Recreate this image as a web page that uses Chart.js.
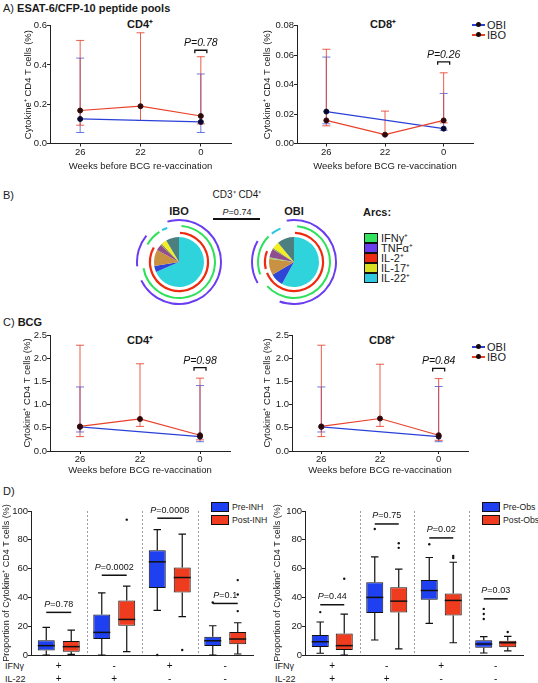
<!DOCTYPE html>
<html>
<head>
<meta charset="utf-8">
<script src="https://cdn.jsdelivr.net/npm/chart.js@4.4.1/dist/chart.umd.min.js"></script>
<style>
  body{margin:0;width:538px;height:683px;position:relative;overflow:hidden;background:#fff;
       font-family:'Liberation Sans',Arial,sans-serif;color:#1a1a1a}
  canvas{position:absolute}
  .t{position:absolute;white-space:nowrap;line-height:1}
  .c{transform:translate(-50%,-50%)}
  .lg{position:absolute;font-size:11px;line-height:12px;height:12px;padding-left:15px;white-space:nowrap}
  .lg .ln{position:absolute;left:0;top:5px;width:13px;height:1.5px}
  .lg .dt{position:absolute;left:3.5px;top:3px;width:5px;height:5px;border-radius:50%;background:#1a0808}
  .bx{position:absolute;font-size:8.7px;line-height:10px;white-space:nowrap;padding-left:21px}
  .bx i{position:absolute;left:0;top:0;width:16px;height:8px;border:1px solid #111}
  .arc{position:absolute;left:364px;font-size:11px;line-height:10px;white-space:nowrap;padding-left:17px}
  .arc i{position:absolute;left:0;top:0;width:12px;height:8px;border:1px solid #111}
</style>
</head>
<body>

<div class="t" style="left:3px;top:3px;font-size:11px">A) <b>ESAT-6/CFP-10 peptide pools</b></div>
<div class="t c" style="left:140px;top:24px;font-size:11px;font-weight:bold">CD4⁺</div>
<div class="t c" style="left:383px;top:24px;font-size:11px;font-weight:bold">CD8⁺</div>
<div class="lg" style="left:472px;top:19px"><i class="ln" style="background:#2a41d8"></i><i class="dt"></i>OBI</div>
<div class="lg" style="left:472px;top:29px"><i class="ln" style="background:#e8412b"></i><i class="dt"></i>IBO</div>

<div class="t" style="left:3px;top:190px;font-size:11px">B)</div>
<div class="t c" style="left:237px;top:195px;font-size:10px">CD3⁺ CD4⁺</div>
<div class="t c" style="left:179px;top:211px;font-size:11px;font-weight:bold">IBO</div>
<div class="t c" style="left:294px;top:211px;font-size:11px;font-weight:bold">OBI</div>
<div class="t c" style="left:237px;top:212px;font-size:9px"><i>P</i>=0.74</div>
<div style="position:absolute;left:213px;top:218px;width:47px;height:1.5px;background:#111"></div>
<div class="t" style="left:363px;top:207px;font-size:11px;font-weight:bold">Arcs:</div>
<div class="arc" style="top:233px"><i style="background:#33e25f"></i>IFNγ⁺</div>
<div class="arc" style="top:243px"><i style="background:#6a3df0"></i>TNFα⁺</div>
<div class="arc" style="top:253px"><i style="background:#ee2a10"></i>IL-2⁺</div>
<div class="arc" style="top:263px"><i style="background:#d8e020"></i>IL-17⁺</div>
<div class="arc" style="top:273px"><i style="background:#2ec8e0"></i>IL-22⁺</div>

<div class="t" style="left:3px;top:317px;font-size:11px">C) <b>BCG</b></div>
<div class="t c" style="left:140px;top:340px;font-size:11px;font-weight:bold">CD4⁺</div>
<div class="t c" style="left:382px;top:340px;font-size:11px;font-weight:bold">CD8⁺</div>
<div class="lg" style="left:472px;top:341px"><i class="ln" style="background:#2a41d8"></i><i class="dt"></i>OBI</div>
<div class="lg" style="left:472px;top:351px"><i class="ln" style="background:#e8412b"></i><i class="dt"></i>IBO</div>

<div class="t" style="left:3px;top:486px;font-size:11px">D)</div>
<div class="bx" style="left:211px;top:502px"><i style="background:#1f40f0"></i>Pre-INH</div>
<div class="bx" style="left:211px;top:515px"><i style="background:#f03c1e"></i>Post-INH</div>
<div class="bx" style="left:482px;top:502px"><i style="background:#1f40f0"></i>Pre-Obs</div>
<div class="bx" style="left:482px;top:515px"><i style="background:#f03c1e"></i>Post-Obs</div>
<div class="t" style="left:5px;top:662px;font-size:9px">IFNγ</div>
<div class="t" style="left:5px;top:675px;font-size:9px">IL-22</div>
<div class="t" style="left:275px;top:662px;font-size:9px">IFNγ</div>
<div class="t" style="left:275px;top:675px;font-size:9px">IL-22</div>

<script>
// ---- data ----
const weeks = ['26', '22', '0'];

// A) ESAT-6/CFP-10, CD4 (median, lower and upper error)
const iboCd4A = [0.168, 0.19, 0.14], iboCd4ALo = [0.093, 0.117, 0.10], iboCd4AHi = [0.525, 0.564, 0.442];
const obiCd4A = [0.125, null, 0.11], obiCd4ALo = [0.056, null, 0.056], obiCd4AHi = [0.435, null, 0.354];
// A) CD8
const iboCd8A = [0.0157, 0.006, 0.0157], iboCd8ALo = [0.012, 0.006, 0.014], iboCd8AHi = [0.064, 0.022, 0.048];
const obiCd8A = [0.0217, null, 0.0101], obiCd8ALo = [0.0134, null, 0.009], obiCd8AHi = [0.0587, null, 0.034];
// C) BCG, CD4
const iboCd4C = [0.53, 0.69, 0.34], iboCd4CLo = [0.31, 0.53, 0.24], iboCd4CHi = [2.28, 1.88, 1.57];
const obiCd4C = [0.52, null, 0.31], obiCd4CLo = [0.41, null, 0.20], obiCd4CHi = [1.38, null, 1.41];
// C) CD8
const iboCd8C = [0.53, 0.70, 0.34], iboCd8CLo = [0.31, 0.53, 0.23], iboCd8CHi = [2.28, 1.87, 1.56];
const obiCd8C = [0.52, null, 0.31], obiCd8CLo = [0.41, null, 0.20], obiCd8CHi = [1.38, null, 1.39];

// B) pies (share of slices) and arcs (degrees clockwise from top)
const iboPie = [68.5, 4, 10.5, 4, 1, 3.5, 8.5];
const obiPie = [58, 8.5, 10.5, 1, 5.5, 1, 4.5, 11];
const iboTnfArcs = [[-16, 244], [264, 309]];
const iboIfngArcs = [[4, 260], [299, 327]];
const iboIl22Arcs = [[332, 341]];
const iboIl2Arcs = [[2, 300]];
const obiTnfArcs = [[-10, 200], [240, 300]];
const obiIfngArcs = [[5, 228], [250, 315]];
const obiIl22Arcs = [[322, 338]];
const obiIl2Arcs = [[2, 248], [256, 292]];

// D) box plots: IFNγ / IL-22 combos
const ifngRow = ['+', '-', '+', '-'];
const il22Row = ['+', '+', '-', '-'];
const preInhMin = [0, 0, 31, 0],        preInhQ1 = [3.2, 11.1, 46.6, 6.2],  preInhMed = [6.5, 15.7, 64.7, 9.9];
const preInhQ3 = [10.2, 28.2, 72.7, 12.7], preInhMax = [19.2, 43.2, 87, 20.3];
const preInhOut = [[], [], [0], [36.5]];
const postInhMin = [0.5, 2.3, 26.6, 0.7], postInhQ1 = [2.3, 20.3, 43.4, 7.4], postInhMed = [5.8, 24.7, 53.8, 11.1];
const postInhQ3 = [9.7, 37.9, 60.7, 15.9], postInhMax = [17.3, 47.8, 84, 22.4];
const postInhOut = [[], [94], [3.5], [52, 42, 30.5]];
const inhP = ['0.78', '0.0002', '0.0008', '0.1'], inhPy = [29.6, 55.4, 95, 35.8];

const preObsMin = [1.2, 10.4, 21.9, 1.4], preObsQ1 = [5.5, 29.1, 38.3, 5.1], preObsMed = [9.2, 40, 44.8, 7.6];
const preObsQ3 = [13.9, 50.6, 52, 10.2], preObsMax = [22.9, 68.1, 67.7, 12.7];
const preObsOut = [[29.8], [87.5], [76.9], [32, 28.5, 25]];
const postObsMin = [0, 4.2, 8.5, 2.8], postObsQ1 = [3.5, 29.6, 27.5, 5.3], postObsMed = [6.5, 37.4, 37.9, 8.5];
const postObsQ3 = [15, 47.1, 42.7, 9.9], postObsMax = [28.4, 59.6, 64.4, 12.9];
const postObsOut = [[52.9], [77.6, 74.4], [68.8, 67.4], [16]];
const obsP = ['0.44', '0.75', '0.02', '0.03'], obsPy = [34.9, 91, 81.3, 39];

// ---- setup ----
const RED = '#e8412b', BLUE = '#2a41d8', AX = '#222';
const FONT = "'Liberation Sans', Arial, sans-serif";
Chart.defaults.font.family = FONT;
Chart.defaults.font.size = 9.5;
Chart.defaults.color = '#1a1a1a';
Chart.defaults.animation = false;
Chart.defaults.plugins.legend.display = false;
Chart.defaults.plugins.tooltip.enabled = false;

function addCanvas(left, top, w, h) {
  const cv = document.createElement('canvas');
  cv.width = Math.round(w); cv.height = Math.round(h);
  cv.style.left = left + 'px'; cv.style.top = top + 'px';
  document.body.appendChild(cv);
  return cv;
}

// error bars under the lines, blue first so red sits on top
const errorBars = {
  id: 'errorBars',
  beforeDatasetsDraw(chart) {
    const {ctx, scales: {x, y}} = chart;
    ctx.save();
    chart.data.datasets.slice().reverse().forEach(ds => {
      ctx.strokeStyle = ds.errColor; ctx.lineWidth = 1;
      ds.errLo.forEach((lo, i) => {
        if (lo == null) return;
        const px = x.getPixelForValue(i), y0 = y.getPixelForValue(lo), y1 = y.getPixelForValue(ds.errHi[i]);
        ctx.beginPath();
        ctx.moveTo(px, y0); ctx.lineTo(px, y1);
        ctx.moveTo(px - 4, y0); ctx.lineTo(px + 4, y0);
        ctx.moveTo(px - 4, y1); ctx.lineTo(px + 4, y1);
        ctx.stroke();
      });
    });
    ctx.restore();
  }
};

const pBracket = {
  id: 'pBracket',
  afterDatasetsDraw(chart, args, opts) {
    if (!opts || !opts.text) return;
    const {ctx, scales: {x, y}} = chart;
    const cx = x.getPixelForValue(opts.at), cy = y.getPixelForValue(opts.value);
    ctx.save();
    ctx.strokeStyle = '#111'; ctx.lineWidth = 1.3;
    ctx.beginPath();
    ctx.moveTo(cx - 6, cy + 3); ctx.lineTo(cx - 6, cy); ctx.lineTo(cx + 6, cy); ctx.lineTo(cx + 6, cy + 3);
    ctx.stroke();
    ctx.font = 'italic 10.5px ' + FONT;
    ctx.fillStyle = '#111'; ctx.textAlign = 'center'; ctx.textBaseline = 'middle';
    ctx.fillText(opts.text, cx, cy - 7);
    ctx.restore();
  }
};

function lineChart(plot, o) {
  const cl = Math.round(o.yTitleX - 7), ct = Math.round(plot.T - 10);
  const cw = plot.R + 6 - cl, ch = o.xTitleY + 8 - ct;
  const padTop = plot.T - ct;
  const cv = addCanvas(cl, ct, cw, ch);
  return new Chart(cv, {
    type: 'line',
    data: {
      labels: weeks,
      datasets: [
        {data: o.ibo, errLo: o.iboLo, errHi: o.iboHi, errColor: 'rgba(232,65,43,0.85)',
         borderColor: RED, borderWidth: 1.2, tension: 0,
         pointRadius: 2.5, pointBorderWidth: 1, pointBackgroundColor: '#2a0808', pointBorderColor: '#3a0c0c'},
        {data: o.obi, errLo: o.obiLo, errHi: o.obiHi, errColor: 'rgba(42,65,216,0.7)', spanGaps: true,
         borderColor: BLUE, borderWidth: 1.2, tension: 0,
         pointRadius: 2.5, pointBorderWidth: 1, pointBackgroundColor: '#08082a', pointBorderColor: '#0c0c3a'}
      ]
    },
    options: {
      responsive: false, devicePixelRatio: 1,
      layout: {padding: {top: padTop, right: 6, left: 0, bottom: 0}},
      scales: {
        x: {
          offset: true,
          grid: {drawOnChartArea: false, tickLength: 3, color: AX},
          border: {color: AX, width: 1},
          ticks: {padding: o.tickPad, font: {size: 9.5}, color: '#1a1a1a'},
          title: {display: true, text: 'Weeks before BCG re-vaccination', padding: {top: 0, bottom: 2}, font: {size: 9.5}},
          afterFit: s => { s.height = ch - padTop - (plot.B - plot.T); }
        },
        y: {
          min: 0, max: o.ymax,
          grid: {drawOnChartArea: false, tickLength: 3, color: AX},
          border: {color: AX, width: 1},
          ticks: {stepSize: o.step, padding: 0, font: {size: 9.5}, color: '#1a1a1a', callback: v => v.toFixed(o.dec)},
          title: {display: true, text: 'Cytokine⁺ CD4 T cells (%)', padding: {top: 1.3, bottom: 0}, font: {size: 9.5}},
          afterFit: s => { s.width = plot.L - cl; }
        }
      },
      plugins: {pBracket: o.p}
    },
    plugins: [errorBars, pBracket]
  });
}

lineChart({L: 50, R: 231, T: 25.7, B: 143.5}, {
  ymax: 0.6, step: 0.2, dec: 1, yTitleX: 28, xTitleY: 166, tickPad: 0,
  ibo: iboCd4A, iboLo: iboCd4ALo, iboHi: iboCd4AHi, obi: obiCd4A, obiLo: obiCd4ALo, obiHi: obiCd4AHi,
  p: {text: 'P=0.78', at: 2, value: 0.475}
});
lineChart({L: 297, R: 473, T: 25.7, B: 143.5}, {
  ymax: 0.08, step: 0.02, dec: 2, yTitleX: 267, xTitleY: 166, tickPad: 0,
  ibo: iboCd8A, iboLo: iboCd8ALo, iboHi: iboCd8AHi, obi: obiCd8A, obiLo: obiCd8ALo, obiHi: obiCd8AHi,
  p: {text: 'P=0.26', at: 2, value: 0.0555}
});
lineChart({L: 50, R: 230, T: 335, B: 451}, {
  ymax: 2.5, step: 0.5, dec: 1, yTitleX: 27, xTitleY: 470, tickPad: 0,
  ibo: iboCd4C, iboLo: iboCd4CLo, iboHi: iboCd4CHi, obi: obiCd4C, obiLo: obiCd4CLo, obiHi: obiCd4CHi,
  p: {text: 'P=0.98', at: 2, value: 1.795}
});
lineChart({L: 292, R: 468, T: 335, B: 451}, {
  ymax: 2.5, step: 0.5, dec: 1, yTitleX: 267, xTitleY: 470, tickPad: 0,
  ibo: iboCd8C, iboLo: iboCd8CLo, iboHi: iboCd8CHi, obi: obiCd8C, obiLo: obiCd8CLo, obiHi: obiCd8CHi,
  p: {text: 'P=0.84', at: 2, value: 1.78}
});

// ---- B) pies with arcs ----
const CLEAR = 'rgba(0,0,0,0)';
function ringData(arcs) {
  const parts = [];
  arcs.forEach(([s, e, c]) => {
    if (s < 0) { parts.push([s + 360, 360, c]); parts.push([0, e, c]); }
    else parts.push([s, e, c]);
  });
  parts.sort((a, b) => a[0] - b[0]);
  const data = [], colors = [];
  let pos = 0;
  parts.forEach(([s, e, c]) => {
    if (s > pos) { data.push(s - pos); colors.push(CLEAR); }
    data.push(e - s); colors.push(c); pos = e;
  });
  if (pos < 360) { data.push(360 - pos); colors.push(CLEAR); }
  return {data, backgroundColor: colors};
}
const tag = (arcs, c) => arcs.map(a => [a[0], a[1], c]);
const PURPLE = '#6a3df0', GREEN = '#2fe05a', RRED = '#ee2a10', CYAN = '#2ec8e0';

function spice(cx, cy, pie, pieColors, tnf, ifng, il22, il2) {
  const size = 86;
  const cv = addCanvas(cx - size / 2, cy - size / 2, size, size);
  const ring = (d, w) => Object.assign(d, {weight: w, borderWidth: 0, hoverOffset: 0, offset: 0});
  const gap = w => ({data: [1], backgroundColor: [CLEAR], weight: w, borderWidth: 0, hoverOffset: 0});
  return new Chart(cv, {
    type: 'doughnut',
    data: {
      datasets: [
        ring(ringData(tag(tnf, PURPLE)), 2),
        gap(4),
        ring(ringData(tag(ifng, GREEN).concat(tag(il22, CYAN))), 2),
        gap(4.8),
        ring(ringData(tag(il2, RRED)), 2.2),
        gap(3),
        {data: pie, backgroundColor: pieColors, weight: 25, borderWidth: 0, hoverOffset: 0}
      ]
    },
    options: {responsive: false, devicePixelRatio: 1, cutout: 0, layout: {padding: 0}}
  });
}
spice(179, 262, iboPie, ['#2fd3dc', '#2f45d6', '#c99142', '#8f4f8e', '#8fa04a', '#f2ee22', '#4d7f80'],
      iboTnfArcs, iboIfngArcs, iboIl22Arcs, iboIl2Arcs);
spice(294, 262, obiPie, ['#2fd3dc', '#2f45d6', '#c99142', '#9fd36a', '#8f4f8e', '#8fa04a', '#f2ee22', '#4d7f80'],
      obiTnfArcs, obiIfngArcs, obiIl22Arcs, obiIl2Arcs);

// ---- D) box plots ----
const boxWhiskers = {
  id: 'boxWhiskers',
  beforeDatasetsDraw(chart) {
    const {ctx, chartArea: a, scales: {x}} = chart;
    ctx.save();
    ctx.strokeStyle = '#9a9aa6'; ctx.lineWidth = 1; ctx.setLineDash([2, 2]);
    for (let i = 1; i < chart.data.labels.length; i++) {
      const xb = Math.round((x.getPixelForValue(i - 1) + x.getPixelForValue(i)) / 2) + 0.5;
      ctx.beginPath(); ctx.moveTo(xb, a.top); ctx.lineTo(xb, a.bottom); ctx.stroke();
    }
    ctx.restore();
  },
  afterDatasetsDraw(chart) {
    const {ctx, chartArea: a, scales: {x, y}} = chart;
    ctx.save();
    ctx.strokeStyle = '#111'; ctx.fillStyle = '#111';
    chart.data.datasets.forEach((ds, d) => {
      chart.getDatasetMeta(d).data.forEach((bar, i) => {
        const bx = bar.x, w = bar.width, cap = w * 0.22;
        const yMin = y.getPixelForValue(ds.wMin[i]), yMax = y.getPixelForValue(ds.wMax[i]);
        const yQ1 = y.getPixelForValue(ds.data[i][0]), yQ3 = y.getPixelForValue(ds.data[i][1]);
        const yMed = y.getPixelForValue(ds.med[i]);
        ctx.lineWidth = 1.2;
        ctx.beginPath();
        ctx.moveTo(bx, yQ3); ctx.lineTo(bx, yMax);
        ctx.moveTo(bx - cap, yMax); ctx.lineTo(bx + cap, yMax);
        ctx.moveTo(bx, yQ1); ctx.lineTo(bx, yMin);
        ctx.moveTo(bx - cap, yMin); ctx.lineTo(bx + cap, yMin);
        ctx.stroke();
        ctx.lineWidth = 1.5;
        ctx.beginPath(); ctx.moveTo(bx - w / 2, yMed); ctx.lineTo(bx + w / 2, yMed); ctx.stroke();
        ds.out[i].forEach(v => {
          ctx.beginPath(); ctx.arc(bx, y.getPixelForValue(v), 1.2, 0, Math.PI * 2); ctx.fill();
        });
      });
    });
    // P value lines
    const p = chart.options.plugins.pLines;
    const m0 = chart.getDatasetMeta(0).data, m1 = chart.getDatasetMeta(1).data;
    ctx.textBaseline = 'middle';
    p.text.forEach((t, i) => {
      const yy = y.getPixelForValue(p.value[i]);
      ctx.lineWidth = 1.5;
      ctx.beginPath(); ctx.moveTo(m0[i].x, yy); ctx.lineTo(m1[i].x, yy); ctx.stroke();
      const cx = (m0[i].x + m1[i].x) / 2;
      ctx.font = 'italic 9px ' + FONT;
      const wP = ctx.measureText('P').width;
      ctx.font = '9px ' + FONT;
      const wT = ctx.measureText('=' + t).width;
      const x0 = cx - (wP + wT) / 2;
      ctx.textAlign = 'left';
      ctx.font = 'italic 9px ' + FONT; ctx.fillText('P', x0, yy - 8);
      ctx.font = '9px ' + FONT; ctx.fillText('=' + t, x0 + wP, yy - 8);
    });
    // +/- rows under the categories
    ctx.font = '10px ' + FONT; ctx.textAlign = 'center';
    p.rows.forEach((row, r) => {
      row.forEach((s, i) => ctx.fillText(s, x.getPixelForValue(i), a.bottom + 11 + r * 13));
    });
    ctx.restore();
  }
};

function boxChart(plot, o) {
  const cl = Math.round(o.yTitleX - 6), ct = Math.round(plot.T - 18);
  const cw = plot.R + 4 - cl, ch = 683 - ct;
  const padTop = plot.T - ct;
  const cv = addCanvas(cl, ct, cw, ch);
  const box = (label, color, mn, q1, md, q3, mx, out) => ({
    label, data: q1.map((q, i) => [q, q3[i]]), wMin: mn, wMax: mx, med: md, out,
    backgroundColor: color, borderColor: '#111', borderWidth: 1, borderSkipped: false,
    categoryPercentage: o.cp, barPercentage: o.bp
  });
  return new Chart(cv, {
    type: 'bar',
    data: {
      labels: ifngRow.map((s, i) => s + '/' + il22Row[i]),
      datasets: [
        box('Pre', '#1f40f0', o.pre[0], o.pre[1], o.pre[2], o.pre[3], o.pre[4], o.pre[5]),
        box('Post', '#f03c1e', o.post[0], o.post[1], o.post[2], o.post[3], o.post[4], o.post[5])
      ]
    },
    options: {
      responsive: false, devicePixelRatio: 1,
      layout: {padding: {top: padTop, right: 4, left: 0, bottom: 0}},
      scales: {
        x: {
          grid: {display: false, drawTicks: false},
          border: {color: AX, width: 1},
          ticks: {display: false},
          afterFit: s => { s.height = ch - padTop - (plot.B - plot.T); }
        },
        y: {
          min: 0, max: 100,
          grid: {drawOnChartArea: false, tickLength: 3, color: AX},
          border: {color: AX, width: 1},
          ticks: {stepSize: 20, padding: 0, font: {size: 9.5}, color: '#1a1a1a'},
          title: {display: true, text: 'Proportion of Cytokine⁺ CD4 T cells (%)',
                  padding: {top: o.yTitleX - cl - 5.4, bottom: 0}, font: {size: 9}},
          afterFit: s => { s.width = plot.L - cl; }
        }
      },
      plugins: {pLines: {text: o.pText, value: o.pY, rows: [ifngRow, il22Row]}}
    },
    plugins: [boxWhiskers]
  });
}

boxChart({L: 31, R: 253, T: 511, B: 655}, {
  yTitleX: 7, cp: 0.9, bp: 0.68,
  pre: [preInhMin, preInhQ1, preInhMed, preInhQ3, preInhMax, preInhOut],
  post: [postInhMin, postInhQ1, postInhMed, postInhQ3, postInhMax, postInhOut],
  pText: inhP, pY: inhPy
});
boxChart({L: 305, R: 523, T: 511, B: 655}, {
  yTitleX: 278, cp: 0.88, bp: 0.71,
  pre: [preObsMin, preObsQ1, preObsMed, preObsQ3, preObsMax, preObsOut],
  post: [postObsMin, postObsQ1, postObsMed, postObsQ3, postObsMax, postObsOut],
  pText: obsP, pY: obsPy
});
</script>
</body>
</html>
